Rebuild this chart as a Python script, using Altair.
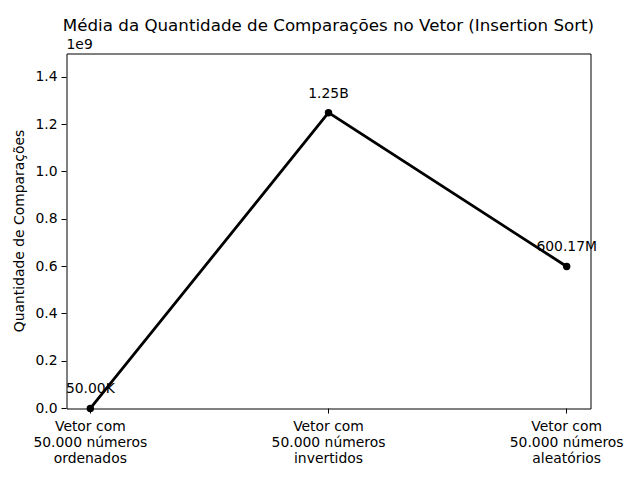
import altair as alt
import pandas as pd

pos = [0, 1, 2]
categorias = [
    ["Vetor com", "50.000 números", "ordenados"],
    ["Vetor com", "50.000 números", "invertidos"],
    ["Vetor com", "50.000 números", "aleatórios"],
]
valores = [49999, 1249975000, 600170000]
rotulos = ["50.00K", "1.25B", "600.17M"]

df = pd.DataFrame({"pos": pos, "valor": valores, "rotulo": rotulos})

FONT = "DejaVu Sans"

label_expr = "[" + ",".join(
    "[" + ",".join("'" + s + "'" for s in c) + "]" for c in categorias
) + "][datum.value]"

x = alt.X(
    "pos:Q",
    scale=alt.Scale(domain=[-0.1, 2.1], nice=False, zero=False),
    axis=alt.Axis(
        values=pos, labelExpr=label_expr, title=None, grid=False,
        tickColor="black", tickSize=5, labelPadding=6, labelColor="black",
        labelFontSize=13.9, labelFont=FONT, domain=False, labelLineHeight=16,
        labelBaseline="top", translate=0,
    ),
)
y = alt.Y(
    "valor:Q",
    scale=alt.Scale(domain=[0, 1.5e9], nice=False),
    axis=alt.Axis(
        values=[0, 2e8, 4e8, 6e8, 8e8, 1e9, 1.2e9, 1.4e9],
        labelExpr="format(datum.value/1e9, '.1f')",
        title="Quantidade de Comparações", titleFontSize=13.9, titleFont=FONT,
        titleFontWeight="normal", titleColor="black", titlePadding=8,
        grid=False, tickColor="black", tickSize=5, labelPadding=4,
        labelColor="black", labelFontSize=13.9, labelFont=FONT, domain=False,
        translate=0,
    ),
)

line = alt.Chart(df).mark_line(color="black", strokeWidth=2.8).encode(x=x, y=y)
pts = alt.Chart(df).mark_point(filled=True, color="black", size=55, opacity=1).encode(x=x, y=y)
txt = alt.Chart(df).mark_text(
    font=FONT, fontSize=13.9, color="black", baseline="alphabetic", dy=-15
).encode(x=x, y=y, text="rotulo:N")
offset_txt = alt.Chart(pd.DataFrame({"t": ["1e9"]})).mark_text(
    font=FONT, fontSize=13.9, color="black", align="left", baseline="alphabetic"
).encode(x=alt.value(0), y=alt.value(-5), text="t:N")

chart = (
    alt.layer(line, pts, txt, offset_txt)
    .properties(
        width=524, height=355,
        background="white",
        title=alt.TitleParams(
            "Média da Quantidade de Comparações no Vetor (Insertion Sort)",
            font=FONT, fontSize=16.7, fontWeight="normal", color="black",
            anchor="middle", offset=3,
        ),
        autosize=alt.AutoSizeParams(type="none"),
        padding={"left": 66.5, "top": 53.5, "right": 49.5, "bottom": 71.5},
    )
    .configure_view(stroke="black", strokeWidth=1)
)

chart.save("out.html", embed_options={"renderer": "svg", "actions": False})
